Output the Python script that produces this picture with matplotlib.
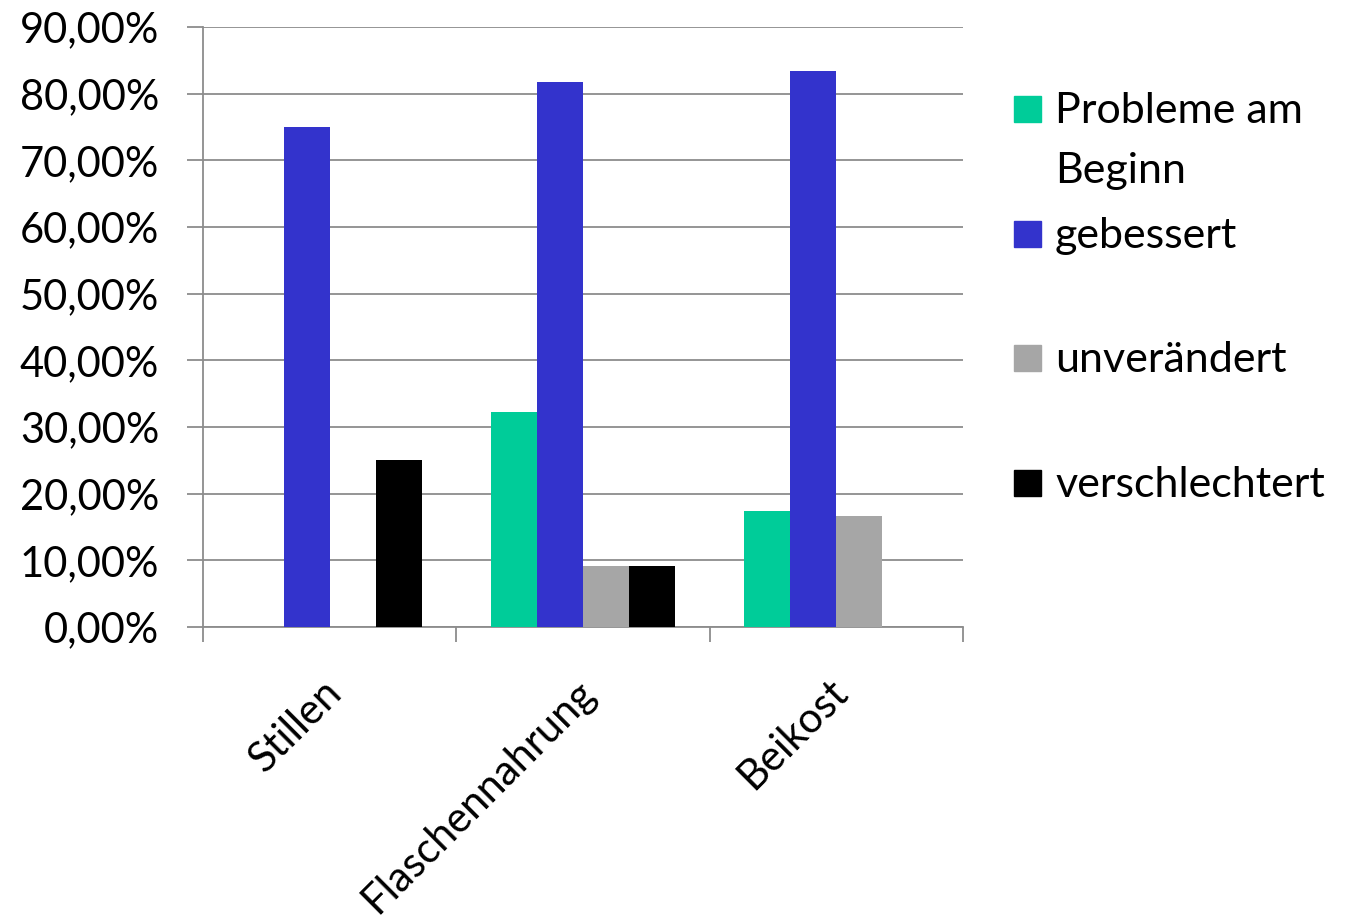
import numpy as np
import matplotlib.pyplot as plt
import matplotlib.transforms as mtransforms
from matplotlib.patches import Rectangle
from matplotlib.ticker import FuncFormatter

categories = ["Stillen", "Flaschennahrung", "Beikost"]
series = ["Probleme am\nBeginn", "gebessert", "unverändert", "verschlechtert"]
probleme = [0.0, 32.26, 17.39]
gebessert = [75.0, 81.82, 83.33]
unveraendert = [0.0, 9.09, 16.67]
verschlechtert = [25.0, 9.09, 0.0]
colors = ["#00cc99", "#3333cc", "#a6a6a6", "#000000"]

plt.rcParams["font.family"] = ["Lato", "DejaVu Sans"]

W, H = 1348, 922
fig = plt.figure(figsize=(W / 100, H / 100), dpi=100)
ax = fig.add_axes([203 / W, 1 - 627 / H, 760 / W, 600 / H])

x = np.arange(len(categories))
w = 0.182
values = [probleme, gebessert, unveraendert, verschlechtert]
for i, (vals, c, lab) in enumerate(zip(values, colors, series)):
    ax.bar(x + (i - 1.5) * w, vals, width=w, color=c, label=lab, zorder=3)

ax.set_xlim(-0.5, 2.5)
ax.set_ylim(0, 90)
ax.set_yticks(np.arange(0, 91, 10))
ax.yaxis.set_major_formatter(FuncFormatter(lambda v, p: f"{v:.2f}%".replace(".", ",")))
ax.grid(axis="y", color="#8c8c8c", linewidth=1.3, zorder=0)

for s in ["top", "right"]:
    ax.spines[s].set_visible(False)
for s in ["left", "bottom"]:
    ax.spines[s].set_color("#8c8c8c")
    ax.spines[s].set_linewidth(1.3)

ax.tick_params(axis="y", length=11.5, width=1.3, color="#8c8c8c", labelsize=30, pad=20)
ax.set_xticks([-0.5, 0.5, 1.5, 2.5], minor=True)
ax.tick_params(axis="x", which="minor", length=11, width=1.3, color="#8c8c8c")
ax.set_xticks(x)
ax.set_xticklabels(categories, rotation=45, ha="right", rotation_mode="anchor", fontsize=30)
ax.tick_params(axis="x", which="major", length=0, pad=33)
shift = mtransforms.ScaledTranslation(-8 / 100, 0, fig.dpi_scale_trans)
for t in ax.get_xticklabels():
    t.set_transform(t.get_transform() + shift)

# legend, Excel style: marker aligned with first text line
leg_y = [109, 234, 358, 483]
for yc, c, lab in zip(leg_y, colors, series):
    fig.add_artist(Rectangle((1014 / W, 1 - (yc + 13) / H), 27 / W, 26 / H,
                             transform=fig.transFigure, color=c))
    for k, line in enumerate(lab.split("\n")):
        fig.text(1055 / W, 1 - (yc + 14 + 60 * k) / H, line, fontsize=31,
                 va="baseline", ha="left")

fig.savefig("out.png", dpi=100)
